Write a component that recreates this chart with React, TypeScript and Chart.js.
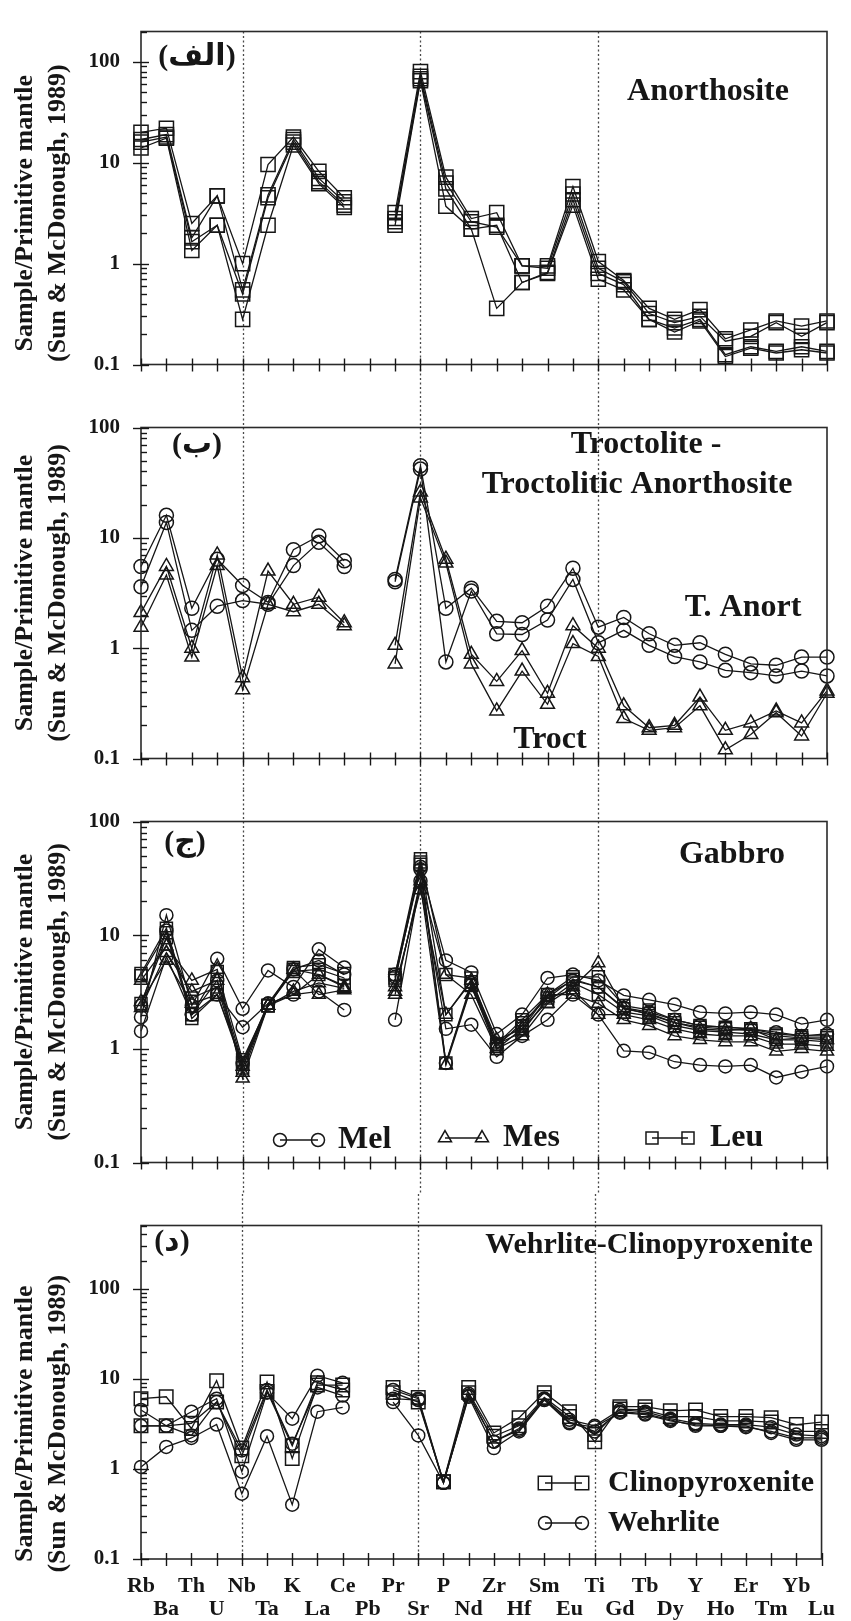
import React, { useEffect, useRef } from 'react';
import { Chart, registerables } from 'chart.js';

Chart.register(...registerables);

// ---------- categories / ticks ----------
const ELEMENTS = ['Rb', 'Ba', 'Th', 'U', 'Nb', 'Ta', 'K', 'La', 'Ce', 'Pb', 'Pr', 'Sr', 'P', 'Nd', 'Zr', 'Hf', 'Sm', 'Eu', 'Ti', 'Gd', 'Tb', 'Dy', 'Y', 'Ho', 'Er', 'Tm', 'Yb', 'Lu'];
const DIVIDERS = ['Nb', 'Sr', 'Ti'];
const Y_TICKS = [0.1, 1, 10, 100];
const Y_TITLE = ['Sample/Primitive mantle', '(Sun & McDonough, 1989)'];

// ---------- (الف) Anorthosite ----------
const ANORTH_1 = [20, 22, 2.5, 4.7, 1.0, 9.6, 18, 8.2, 4.5, null, 3.2, 80, 7.2, 2.8, 3.2, 0.95, 0.95, 5.8, 1.05, 0.68, 0.36, 0.28, 0.35, 0.18, 0.22, 0.27, 0.24, 0.27];
const ANORTH_2 = [17, 19, 1.8, 4.7, 0.55, 4.8, 17, 7.0, 4.1, null, 2.8, 72, 6.3, 2.6, 2.3, 0.95, 0.9, 4.9, 0.9, 0.66, 0.32, 0.26, 0.3, 0.17, 0.19, 0.26, 0.19, 0.26];
const ANORTH_3 = [16, 18, 1.65, 2.4, 0.5, 4.5, 16, 6.5, 3.8, null, 2.6, 68, 5.5, 2.2, 0.36, 0.65, 0.82, 4.3, 0.8, 0.62, 0.28, 0.23, 0.28, 0.125, 0.15, 0.135, 0.15, 0.135];
const ANORTH_4 = [14, 17.5, 1.35, 2.4, 0.28, 2.4, 15, 6.2, 3.6, null, 2.4, 65, 3.7, 2.2, 2.4, 0.65, 0.8, 3.8, 0.7, 0.55, 0.28, 0.21, 0.27, 0.12, 0.145, 0.13, 0.14, 0.13];

// ---------- (ب) Troctolite - Troctolitic Anorthosite ----------
const TANORT_1 = [5.5, 16, 2.3, 6.4, 3.7, 2.6, 7.8, 10.4, 6.2, null, 4.2, 45, 2.3, 3.5, 1.75, 1.7, 2.4, 5.3, 1.55, 1.9, 1.35, 1.06, 1.12, 0.88, 0.72, 0.7, 0.83, 0.83];
const TANORT_2 = [3.6, 13.8, 1.45, 2.4, 2.7, 2.5, 5.6, 9.1, 5.5, null, 4.0, 42, 0.75, 3.3, 1.35, 1.33, 1.8, 4.2, 1.12, 1.45, 1.06, 0.84, 0.75, 0.63, 0.6, 0.56, 0.62, 0.56];
const TROCT_1 = [2.1, 5.5, 1.0, 7.0, 0.54, 5.0, 2.5, 2.9, 1.7, null, 1.06, 26, 6.4, 0.88, 0.5, 0.95, 0.39, 1.6, 1.0, 0.3, 0.19, 0.2, 0.36, 0.18, 0.21, 0.27, 0.21, 0.41];
const TROCT_2 = [1.55, 4.6, 0.83, 5.6, 0.42, 2.5, 2.14, 2.5, 1.6, null, 0.72, 23, 5.9, 0.72, 0.27, 0.62, 0.31, 1.1, 0.84, 0.23, 0.18, 0.19, 0.3, 0.12, 0.165, 0.26, 0.16, 0.39];

// ---------- (ج) Gabbro ----------
const MEL_1 = [1.9, 15, 2.4, 6.2, 2.25, 4.9, 3.5, 7.5, 5.2, null, 4.5, 40, 6.0, 4.7, 1.35, 2.0, 4.2, 4.5, 4.0, 2.95, 2.7, 2.45, 2.1, 2.05, 2.1, 2.0, 1.65, 1.8];
const MEL_2 = [1.43, 6.5, 2.0, 3.0, 1.55, 2.5, 3.0, 3.2, 2.2, null, 1.8, 30, 1.5, 1.63, 0.85, 1.3, 1.8, 3.0, 2.0, 0.96, 0.93, 0.77, 0.72, 0.7, 0.72, 0.56, 0.63, 0.7];
const MEL_3 = [2.4, 11, 2.0, 4.0, 0.75, 2.5, 5.0, 6.0, 4.5, null, 4.3, 38, 0.75, 3.8, 1.1, 1.6, 3.0, 4.0, 3.5, 2.3, 2.1, 1.8, 1.6, 1.55, 1.5, 1.4, 1.3, 1.35];
const MES_1 = [4.0, 8.0, 4.0, 5.0, 0.55, 2.4, 3.0, 4.5, 3.5, null, 3.0, 30, 4.5, 3.0, 1.0, 1.3, 2.5, 3.5, 5.7, 2.3, 2.0, 1.7, 1.5, 1.45, 1.5, 1.2, 1.25, 1.2];
const MES_2 = [2.6, 6.0, 2.5, 3.0, 0.7, 2.4, 5.0, 3.0, 3.3, null, 3.5, 25, 2.0, 4.0, 1.2, 1.5, 3.0, 3.0, 2.5, 1.8, 1.6, 1.3, 1.2, 1.15, 1.15, 0.95, 1.0, 0.95];
const MES_3 = [2.3, 7.0, 3.2, 4.0, 0.62, 2.4, 3.2, 3.8, 3.4, null, 3.2, 28, 0.72, 3.5, 1.1, 1.4, 2.8, 3.3, 2.0, 2.0, 1.8, 1.5, 1.35, 1.3, 1.3, 1.1, 1.1, 1.05];
const LEU_1 = [4.6, 11.5, 2.0, 4.8, 0.8, 2.4, 5.2, 5.5, 4.6, null, 4.5, 47, 4.5, 4.2, 1.1, 1.8, 3.0, 4.3, 4.3, 2.4, 2.2, 1.8, 1.6, 1.55, 1.5, 1.35, 1.3, 1.3];
const LEU_2 = [2.5, 9.5, 2.8, 3.5, 0.68, 2.4, 5.0, 4.5, 3.6, null, 4.0, 42, 0.75, 3.6, 1.0, 1.5, 2.6, 3.8, 3.0, 2.1, 1.95, 1.6, 1.45, 1.4, 1.35, 1.2, 1.2, 1.15];
const LEU_3 = [4.4, 10.5, 1.85, 3.0, 0.75, 2.4, 4.8, 5.0, 4.2, null, 4.2, 44, 2.0, 3.9, 1.05, 1.7, 2.8, 4.1, 3.5, 2.25, 2.05, 1.7, 1.55, 1.5, 1.45, 1.3, 1.25, 1.25];

// ---------- (د) Wehrlite-Clinopyroxenite ----------
const CPX_1 = [6.0, 6.3, 2.8, 9.5, 1.7, 9.2, 1.3, 8.5, 8.5, null, 8.0, 6.2, 0.72, 8.0, 2.5, 3.7, 7.0, 4.3, 2.0, 4.9, 4.9, 4.4, 4.5, 3.8, 3.8, 3.7, 3.1, 3.3];
const CPX_2 = [3.0, 3.0, 3.2, 5.5, 1.4, 7.2, 1.8, 9.0, 7.5, null, 7.0, 5.5, 0.72, 7.0, 2.3, 3.0, 6.2, 3.8, 2.4, 4.6, 4.5, 3.8, 3.8, 3.4, 3.4, 3.3, 2.6, 2.6];
const WEH_1 = [4.5, 3.0, 4.3, 6.0, 0.93, 7.0, 3.6, 10.8, 9.0, null, 7.5, 6.0, 0.7, 6.8, 2.0, 2.7, 6.0, 3.5, 3.0, 4.5, 4.3, 3.6, 3.2, 3.1, 3.1, 2.9, 2.4, 2.3];
const WEH_2 = [3.0, 3.0, 2.35, 5.5, 1.6, 7.5, 1.9, 8.0, 6.5, null, 6.0, 5.8, 0.7, 6.5, 2.0, 2.8, 6.0, 3.3, 2.6, 4.3, 4.1, 3.5, 3.0, 3.0, 2.9, 2.6, 2.2, 2.2];
const WEH_3 = [1.05, 1.75, 2.2, 3.1, 0.53, 2.3, 0.4, 4.3, 4.8, null, 5.5, 2.35, 0.7, 6.3, 1.7, 2.6, 5.8, 3.2, 2.9, 4.2, 4.0, 3.4, 3.1, 3.0, 3.0, 2.5, 2.1, 2.1];

// ---------- layout / style ----------
const W = 851;
const PLOT_LEFT = 141;
const PLOT_RIGHT = 827;
const INK = '#161616';
const SERIF = "'Liberation Serif', 'Times New Roman', 'DejaVu Serif', serif";
const ARABIC = "'Liberation Serif', 'DejaVu Sans', 'Noto Sans', serif";

type Marker = 'rect' | 'circle' | 'triangle';
type Series = { data: (number | null)[]; marker: Marker; r: number };
type Ann = { text: string; x: number; y: number; size: number; align?: CanvasTextAlign; font?: string };
type LegendItem = { label: string; marker: Marker; r: number; x1: number; x2: number; tx: number; y: number; size: number };
type Panel = {
  top: number; height: number; areaTop: number; areaBottom: number; yMax: number;
  series: Series[]; showX: boolean; texts: Ann[]; legend: LegendItem[];
  dotFromArea: boolean; dotToArea: boolean;
};

const PANELS: Panel[] = [
  {
    top: 0, height: 396, areaTop: 13, areaBottom: 383, yMax: 200,
    series: [ANORTH_1, ANORTH_2, ANORTH_3, ANORTH_4].map((d) => ({ data: d, marker: 'rect' as Marker, r: 10 })),
    showX: false,
    texts: [
      { text: '(الف)', x: 197, y: 57, size: 30, font: ARABIC },
      { text: 'Anorthosite', x: 708, y: 92, size: 32 },
    ],
    legend: [], dotFromArea: true, dotToArea: false,
  },
  {
    top: 396, height: 394, areaTop: 409, areaBottom: 770, yMax: 100,
    series: [
      ...[TANORT_1, TANORT_2].map((d) => ({ data: d, marker: 'circle' as Marker, r: 7 })),
      ...[TROCT_1, TROCT_2].map((d) => ({ data: d, marker: 'triangle' as Marker, r: 8 })),
    ],
    showX: false,
    texts: [
      { text: '(ب)', x: 197, y: 445, size: 30, font: ARABIC },
      { text: 'Troctolite -', x: 646, y: 445, size: 32 },
      { text: 'Troctolitic Anorthosite', x: 637, y: 485, size: 32 },
      { text: 'T. Anort', x: 743, y: 608, size: 32 },
      { text: 'Troct', x: 550, y: 740, size: 32 },
    ],
    legend: [], dotFromArea: false, dotToArea: false,
  },
  {
    top: 790, height: 404, areaTop: 813, areaBottom: 1175, yMax: 100,
    series: [
      ...[MEL_1, MEL_2, MEL_3].map((d) => ({ data: d, marker: 'circle' as Marker, r: 6.5 })),
      ...[MES_1, MES_2, MES_3].map((d) => ({ data: d, marker: 'triangle' as Marker, r: 7.5 })),
      ...[LEU_1, LEU_2, LEU_3].map((d) => ({ data: d, marker: 'rect' as Marker, r: 8.5 })),
    ],
    showX: false,
    texts: [
      { text: '(ج)', x: 185, y: 843, size: 30, font: ARABIC },
      { text: 'Gabbro', x: 732, y: 855, size: 32 },
    ],
    legend: [
      { label: 'Mel', marker: 'circle', r: 6.5, x1: 280, x2: 318, tx: 338, y: 1140, size: 32 },
      { label: 'Mes', marker: 'triangle', r: 7.5, x1: 445, x2: 482, tx: 503, y: 1138, size: 32 },
      { label: 'Leu', marker: 'rect', r: 8.5, x1: 652, x2: 688, tx: 710, y: 1138, size: 32 },
    ],
    dotFromArea: false, dotToArea: false,
  },
  {
    top: 1194, height: 427, areaTop: 1208, areaBottom: 1559, yMax: 500,
    series: [
      ...[CPX_1, CPX_2].map((d) => ({ data: d, marker: 'rect' as Marker, r: 9.5 })),
      ...[WEH_1, WEH_2, WEH_3].map((d) => ({ data: d, marker: 'circle' as Marker, r: 6.5 })),
    ],
    showX: true,
    texts: [
      { text: '(د)', x: 172, y: 1242, size: 30, font: ARABIC },
      { text: 'Wehrlite-Clinopyroxenite', x: 649, y: 1245, size: 30 },
    ],
    legend: [
      { label: 'Clinopyroxenite', marker: 'rect', r: 9.5, x1: 545, x2: 582, tx: 608, y: 1483, size: 30 },
      { label: 'Wehrlite', marker: 'circle', r: 6.5, x1: 545, x2: 582, tx: 608, y: 1523, size: 30 },
    ],
    dotFromArea: false, dotToArea: true,
  },
];

function drawMarker(ctx: CanvasRenderingContext2D, marker: Marker, x: number, y: number, r: number) {
  ctx.beginPath();
  if (marker === 'circle') {
    ctx.arc(x, y, r, 0, Math.PI * 2);
  } else if (marker === 'rect') {
    const s = r * Math.SQRT1_2;
    ctx.rect(x - s, y - s, 2 * s, 2 * s);
  } else {
    for (let k = 0; k < 3; k++) {
      const a = (k * 2 * Math.PI) / 3;
      const px = x + Math.sin(a) * r;
      const py = y - Math.cos(a) * r;
      if (k === 0) ctx.moveTo(px, py);
      else ctx.lineTo(px, py);
    }
    ctx.closePath();
  }
  ctx.stroke();
}

function makeDecor(p: Panel) {
  return {
    id: 'decor',
    beforeDatasetsDraw(chart: any) {
      const { ctx, chartArea: a } = chart;
      const x = chart.scales.x;
      ctx.save();
      ctx.strokeStyle = '#4a4a4a';
      ctx.lineWidth = 1.3;
      ctx.setLineDash([2, 2.5]);
      for (const el of DIVIDERS) {
        const px = Math.round(x.getPixelForValue(ELEMENTS.indexOf(el))) + 0.5;
        ctx.beginPath();
        ctx.moveTo(px, p.dotFromArea ? a.top : 0);
        ctx.lineTo(px, p.dotToArea ? a.bottom + 5 : chart.height);
        ctx.stroke();
      }
      ctx.restore();
    },
    afterDraw(chart: any) {
      const { ctx, chartArea: a } = chart;
      const x = chart.scales.x;
      const y = chart.scales.y;
      ctx.save();
      // frame
      ctx.strokeStyle = '#2a2a2a';
      ctx.lineWidth = 1.6;
      ctx.strokeRect(a.left, a.top, a.right - a.left, a.bottom - a.top);
      // x ticks
      ctx.lineWidth = 1.4;
      ctx.strokeStyle = INK;
      for (let i = 0; i < ELEMENTS.length; i++) {
        const px = Math.round(x.getPixelForValue(i)) + 0.5;
        ctx.beginPath();
        ctx.moveTo(px, a.bottom - 6);
        ctx.lineTo(px, a.bottom + 7);
        ctx.stroke();
      }
      // y ticks (major crossing, minor inside)
      for (let k = -1; k <= 3; k++) {
        const base = Math.pow(10, k);
        for (let m = 1; m <= 9; m++) {
          const v = m * base;
          if (v < 0.1 - 1e-9 || v > p.yMax + 1e-9) continue;
          const py = Math.round(y.getPixelForValue(v)) + 0.5;
          ctx.beginPath();
          if (m === 1) {
            ctx.moveTo(a.left - 8, py);
            ctx.lineTo(a.left + 8, py);
          } else {
            ctx.moveTo(a.left, py);
            ctx.lineTo(a.left + 6, py);
          }
          ctx.stroke();
        }
      }
      // y-axis title
      const cy = (y.getPixelForValue(0.1) + y.getPixelForValue(100)) / 2;
      ctx.fillStyle = INK;
      ctx.font = `bold 26px ${SERIF}`;
      ctx.textAlign = 'center';
      ctx.textBaseline = 'middle';
      ctx.translate(25, cy);
      ctx.rotate(-Math.PI / 2);
      ctx.fillText(Y_TITLE[0], 0, 0);
      ctx.fillText(Y_TITLE[1], 0, 33);
      ctx.restore();

      // annotations
      ctx.save();
      ctx.fillStyle = INK;
      ctx.textBaseline = 'middle';
      for (const t of p.texts) {
        ctx.font = `bold ${t.size}px ${t.font || SERIF}`;
        ctx.textAlign = t.align || 'center';
        ctx.fillText(t.text, t.x, t.y - p.top);
      }
      // legend
      for (const l of p.legend) {
        const ly = l.y - p.top;
        ctx.strokeStyle = INK;
        ctx.lineWidth = 1.4;
        ctx.beginPath();
        ctx.moveTo(l.x1, ly);
        ctx.lineTo(l.x2, ly);
        ctx.stroke();
        ctx.lineWidth = 1.5;
        drawMarker(ctx, l.marker, l.x1, ly, l.r);
        drawMarker(ctx, l.marker, l.x2, ly, l.r);
        ctx.font = `bold ${l.size}px ${SERIF}`;
        ctx.textAlign = 'left';
        ctx.fillText(l.label, l.tx, ly);
      }
      ctx.restore();
    },
  };
}

function PanelChart({ p }: { p: Panel }) {
  const ref = useRef<HTMLCanvasElement | null>(null);
  useEffect(() => {
    if (!ref.current) return;
    const xAxisHeight = p.top + p.height - p.areaBottom;
    const chart = new Chart(ref.current, {
      type: 'line',
      data: {
        labels: ELEMENTS,
        datasets: p.series.map((s) => ({
          data: s.data as any,
          borderColor: INK,
          borderWidth: 1.3,
          pointStyle: s.marker,
          pointRadius: s.r,
          pointBorderWidth: 1.5,
          pointBorderColor: INK,
          pointBackgroundColor: 'rgba(0,0,0,0)',
          fill: false,
          tension: 0,
          spanGaps: false,
        })),
      },
      options: {
        responsive: false,
        maintainAspectRatio: false,
        animation: false,
        events: [],
        layout: { padding: { top: p.areaTop - p.top, left: 0, right: W - PLOT_RIGHT, bottom: 0 } },
        plugins: { legend: { display: false }, tooltip: { enabled: false }, title: { display: false } },
        scales: {
          x: {
            type: 'category',
            offset: false,
            grid: { display: false, drawTicks: false },
            border: { display: false },
            ticks: {
              display: p.showX,
              autoSkip: false,
              maxRotation: 0,
              minRotation: 0,
              padding: 16,
              color: INK,
              font: { family: SERIF, size: 22, weight: 'bold', lineHeight: 1.05 },
              callback: (_v: any, i: number) => (i % 2 === 0 ? [ELEMENTS[i]] : ['', ELEMENTS[i]]),
            },
            afterFit: (s: any) => {
              s.height = xAxisHeight;
            },
          },
          y: {
            type: 'logarithmic',
            min: 0.1,
            max: p.yMax,
            grid: { display: false, drawTicks: false },
            border: { display: false },
            ticks: {
              autoSkip: false,
              padding: 21,
              color: INK,
              font: { family: SERIF, size: 21, weight: 'bold', lineHeight: 1 },
              callback: (v: any) => String(v),
            },
            afterBuildTicks: (s: any) => {
              s.ticks = Y_TICKS.map((v) => ({ value: v }));
            },
            afterFit: (s: any) => {
              s.width = PLOT_LEFT;
            },
          },
        },
      } as any,
      plugins: [makeDecor(p)],
    });
    return () => chart.destroy();
  }, [p]);
  return (
    <canvas
      ref={ref}
      width={W}
      height={p.height}
      style={{ position: 'absolute', left: 0, top: p.top, width: W, height: p.height }}
    />
  );
}

export default function App() {
  useEffect(() => {
    document.body.style.margin = '0';
    document.body.style.background = '#ffffff';
  }, []);
  return (
    <div style={{ position: 'absolute', left: 0, top: 0, width: W, height: 1621, background: '#ffffff' }}>
      {PANELS.map((p, i) => (
        <PanelChart key={i} p={p} />
      ))}
    </div>
  );
}
